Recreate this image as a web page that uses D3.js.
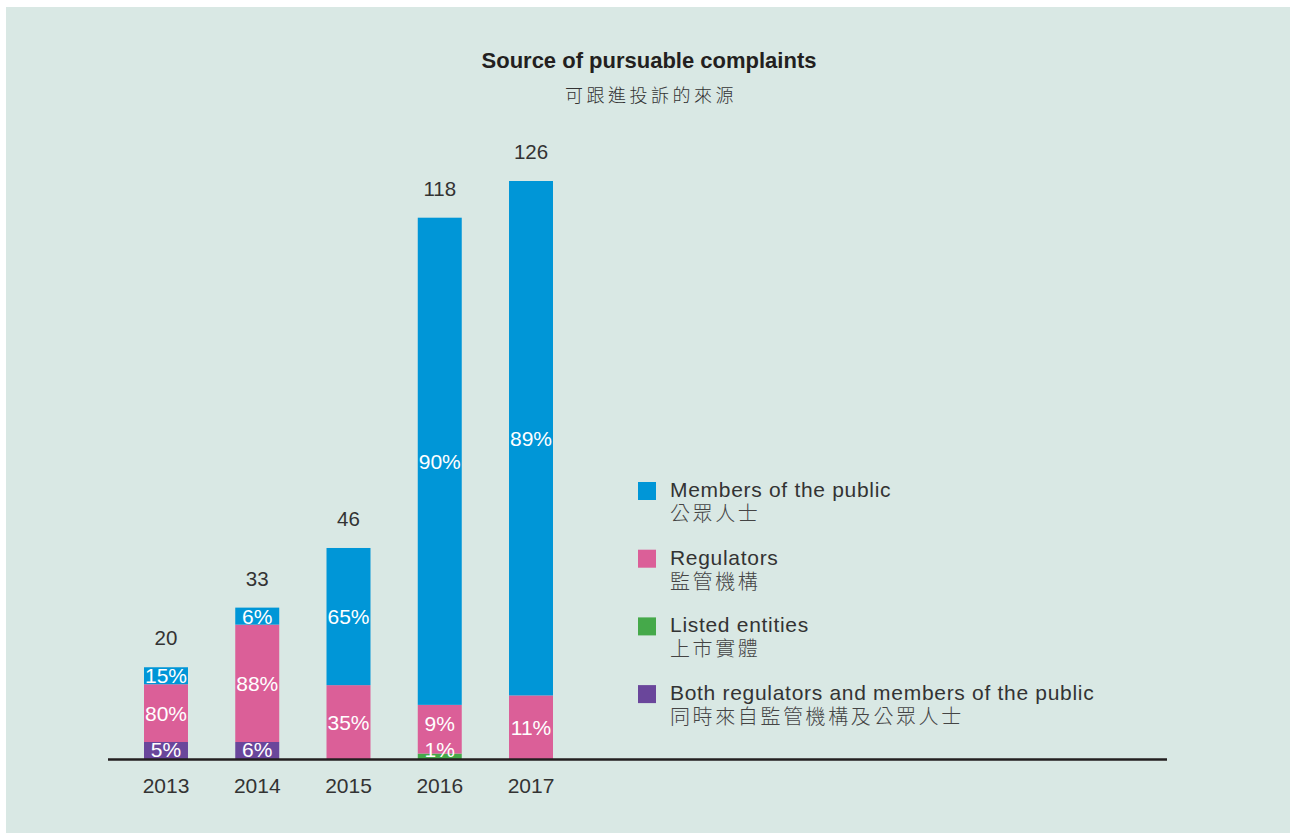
<!DOCTYPE html>
<html>
<head>
<meta charset="utf-8">
<script src="https://cdn.jsdelivr.net/npm/d3@7"></script>
<style>
  body { margin: 0; background: #fff; }
  text { font-family: "Liberation Sans", Arial, sans-serif; }
  .zh { font-family: "Noto Sans CJK TC", "Noto Sans CJK SC", sans-serif; font-weight: 300; }
</style>
</head>
<body>
<svg id="mainsvg" width="1290" height="833"></svg>
<script>
// chart values
const years = ['2013', '2014', '2015', '2016', '2017'];
const totals = [20, 33, 46, 118, 126];
const bothPct = [5, 6, 0, 0, 0];
const listedPct = [0, 0, 0, 1, 0];
const regulatorsPct = [80, 88, 35, 9, 11];
const publicPct = [15, 6, 65, 90, 89];

const seriesNames = ['Both regulators and members of the public', 'Listed entities', 'Regulators', 'Members of the public'];
const seriesNamesZh = ['同時來自監管機構及公眾人士', '上市實體', '監管機構', '公眾人士'];
const seriesColors = ['#6a469b', '#45a94a', '#db5f98', '#0096d7'];
const seriesValues = [bothPct, listedPct, regulatorsPct, publicPct];

const svg = d3.select('#mainsvg');
const width = +svg.attr('width');
const height = +svg.attr('height');

svg.append('rect')
  .attr('x', 6).attr('y', 7)
  .attr('width', width - 6).attr('height', height - 7)
  .attr('fill', '#d9e8e4');

// title
svg.append('text')
  .attr('x', 649).attr('y', 68)
  .attr('text-anchor', 'middle')
  .attr('font-size', 22).attr('font-weight', 'bold')
  .attr('fill', '#231f20')
  .text('Source of pursuable complaints');
svg.append('text')
  .attr('class', 'zh')
  .attr('x', 651).attr('y', 102)
  .attr('text-anchor', 'middle')
  .attr('font-size', 18).attr('letter-spacing', 3.5)
  .attr('fill', '#333')
  .text('可跟進投訴的來源');

const baseY = 759;
const x = d3.scaleBand().domain(years).range([144, 553]).paddingInner(0.518).paddingOuter(0);
const y = d3.scaleLinear().domain([0, 126]).range([baseY, 181]);

// stacked segments (small labelled segments get a minimum height so the label fits)
const minH = 17;
const segs = [];
years.forEach((yr, i) => {
  const total = baseY - y(totals[i]);
  let hs = seriesValues.map(s => total * s[i] / 100);
  let extra = 0;
  hs = hs.map((h, k) => {
    if (seriesValues[k][i] >= 5 && h < minH) { extra += minH - h; return minH; }
    return h;
  });
  const big = d3.maxIndex(hs);
  hs[big] -= extra;
  let acc = baseY;
  let prevLabel = baseY + 16;
  hs.forEach((h, k) => {
    if (seriesValues[k][i] > 0) {
      // label centre, kept clear of the baseline and of the label below
      const ly = Math.min(acc - h / 2, baseY - 10, prevLabel - 26);
      prevLabel = ly;
      segs.push({ year: yr, k, y0: acc - h, h, pct: seriesValues[k][i], ly });
    }
    acc -= h;
  });
});

const g = svg.append('g');
g.selectAll('rect.seg')
  .data(segs)
  .join('rect')
  .attr('class', 'seg')
  .attr('x', d => x(d.year))
  .attr('y', d => d.y0)
  .attr('width', x.bandwidth())
  .attr('height', d => d.h)
  .attr('fill', d => seriesColors[d.k]);

g.selectAll('text.pct')
  .data(segs)
  .join('text')
  .attr('class', 'pct')
  .attr('x', d => x(d.year) + x.bandwidth() / 2)
  .attr('y', d => d.ly + 7.5)
  .attr('text-anchor', 'middle')
  .attr('font-size', 21)
  .attr('fill', '#fff')
  .text(d => d.pct + '%');

// totals
g.selectAll('text.total')
  .data(years)
  .join('text')
  .attr('class', 'total')
  .attr('x', d => x(d) + x.bandwidth() / 2)
  .attr('y', (d, i) => y(totals[i]) - 22)
  .attr('text-anchor', 'middle')
  .attr('font-size', 20.5)
  .attr('fill', '#333')
  .text((d, i) => totals[i]);

// baseline + year labels
svg.append('line')
  .attr('x1', 108).attr('x2', 1167)
  .attr('y1', baseY + 0.5).attr('y2', baseY + 0.5)
  .attr('stroke', '#231f20').attr('stroke-width', 2.5);

g.selectAll('text.year')
  .data(years)
  .join('text')
  .attr('class', 'year')
  .attr('x', d => x(d) + x.bandwidth() / 2)
  .attr('y', 793)
  .attr('text-anchor', 'middle')
  .attr('font-size', 21)
  .attr('fill', '#333')
  .text(d => d);

// legend, top to bottom: public, regulators, listed, both
const legendOrder = [3, 2, 1, 0];
const legend = svg.append('g').attr('transform', 'translate(638, 482)');
const item = legend.selectAll('g')
  .data(legendOrder)
  .join('g')
  .attr('transform', (d, i) => `translate(0, ${i * 67.7})`);
item.append('rect')
  .attr('width', 18).attr('height', 18)
  .attr('fill', d => seriesColors[d]);
item.append('text')
  .attr('x', 32).attr('y', 15)
  .attr('font-size', 21).attr('letter-spacing', 0.7)
  .attr('fill', '#333')
  .text(d => seriesNames[d]);
item.append('text')
  .attr('class', 'zh')
  .attr('x', 32).attr('y', 39)
  .attr('font-size', 20).attr('letter-spacing', 2.6)
  .attr('fill', '#444')
  .text(d => seriesNamesZh[d]);
</script>
</body>
</html>
